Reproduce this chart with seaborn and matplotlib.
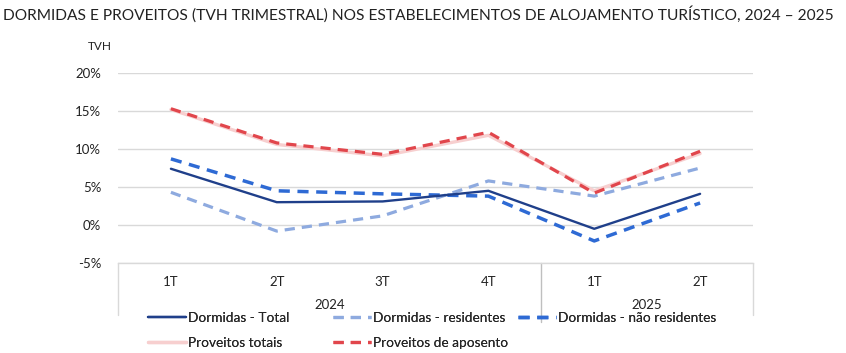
import matplotlib
matplotlib.use("Agg")
import matplotlib.pyplot as plt
import matplotlib.ticker as mticker
import pandas as pd
import seaborn as sns

quarters = ["1T", "2T", "3T", "4T", "1T", "2T"]
years = ["2024", "2025"]
year_spans = [(0, 4), (4, 6)]

dormidas_total = [7.4, 3.0, 3.1, 4.5, -0.5, 4.1]
dormidas_residentes = [4.3, -0.8, 1.2, 5.8, 3.8, 7.5]
dormidas_nao_residentes = [8.7, 4.5, 4.1, 3.8, -2.1, 2.9]
proveitos_totais = [15.2, 10.6, 9.1, 11.8, 4.5, 9.4]
proveitos_aposento = [15.3, 10.8, 9.3, 12.2, 4.2, 9.7]

series = {
    "Dormidas - Total": dormidas_total,
    "Dormidas - residentes": dormidas_residentes,
    "Dormidas - não residentes": dormidas_nao_residentes,
    "Proveitos totais": proveitos_totais,
    "Proveitos de aposento": proveitos_aposento,
}

styles = {
    "Dormidas - Total": dict(color="#1F3F8A", lw=1.7, ls="-", zorder=5),
    "Dormidas - residentes": dict(color="#8EAADF", lw=2.3, ls=(0, (3.2, 2.2)), zorder=3),
    "Dormidas - não residentes": dict(color="#2E6AD4", lw=2.5, ls=(0, (3.2, 2.2)), zorder=4),
    "Proveitos totais": dict(color="#F7CFCF", lw=2.4, ls="-", zorder=2),
    "Proveitos de aposento": dict(color="#E1464C", lw=2.3, ls=(0, (3.2, 2.2)), zorder=6),
}

rows = []
for name, values in series.items():
    for i, v in enumerate(values):
        rows.append({"pos": i, "value": v, "serie": name})
df = pd.DataFrame(rows)

sns.set_style("white")
plt.rcParams["font.family"] = ["Lato", "DejaVu Sans"]

fig = plt.figure(figsize=(8.46, 3.53), dpi=100)
ax = fig.add_axes([118 / 846, 1 - 263 / 353, (753 - 118) / 846, (263 - 73) / 353])

for name in series:
    st = styles[name]
    sub = df[df["serie"] == name]
    sns.lineplot(data=sub, x="pos", y="value", ax=ax, color=st["color"],
                 linewidth=st["lw"], linestyle=st["ls"], label=name,
                 zorder=st["zorder"], legend=False)

ax.set_xlim(-0.5, len(quarters) - 0.5)
ax.set_ylim(-5, 20)
ax.set_yticks([-5, 0, 5, 10, 15, 20])
ax.yaxis.set_major_formatter(mticker.FuncFormatter(lambda v, p: f"{v:.0f}%"))
ax.tick_params(axis="y", length=0, labelsize=9.5, pad=12, colors="#222222")
ax.set_xticks([])
ax.set_xlabel("")
ax.set_ylabel("")
ax.grid(axis="y", color="#D9D9D9", lw=1)
ax.set_axisbelow(True)
for s in ax.spines.values():
    s.set_visible(False)
ax.spines["bottom"].set_visible(True)
ax.spines["bottom"].set_color("#D9D9D9")
ax.spines["bottom"].set_linewidth(1)

# category box below the plot
tr = ax.get_xaxis_transform()
h = 263 - 73
box_bottom = -(315 - 263) / h
sep_bottom = -(322 - 263) / h
for i, q in enumerate(quarters):
    ax.text(i, -(282 - 263) / h, q, transform=tr, ha="center", va="center",
            fontsize=9.5, color="#222222")
for (a, b), yr in zip(year_spans, years):
    ax.text((a + b - 1) / 2, -(305 - 263) / h, yr, transform=tr, ha="center",
            va="center", fontsize=9.5, color="#222222")
ax.plot([-0.5, -0.5], [0, box_bottom], transform=tr, color="#D9D9D9", lw=1, clip_on=False)
ax.plot([5.5, 5.5], [0, box_bottom], transform=tr, color="#D9D9D9", lw=1, clip_on=False)
ax.plot([3.5, 3.5], [0, sep_bottom], transform=tr, color="#BFBFBF", lw=1, clip_on=False)

fig.text(3 / 846, 1 - 14 / 353, "DORMIDAS E PROVEITOS (TVH TRIMESTRAL) NOS ESTABELECIMENTOS DE ALOJAMENTO TURÍSTICO, 2024 – 2025",
         fontsize=11.2, va="center", ha="left", color="#222222")
fig.text(100 / 846, 1 - 47 / 353, "TVH", fontsize=8.5, va="center", ha="center", color="#222222")

handles, labels = ax.get_legend_handles_labels()
columns = [([0, 3], 148), ([1, 4], 333), ([2], 518)]
for idx, x0 in columns:
    leg = fig.legend([handles[i] for i in idx], [labels[i] for i in idx], ncol=1, frameon=False,
                     loc="upper left", bbox_to_anchor=(x0 / 846, 1 - 312 / 353), fontsize=9.8,
                     handlelength=2.8, handletextpad=0.15, labelspacing=0.95,
                     borderaxespad=0, borderpad=0)
    fig.add_artist(leg)

fig.savefig("out.png", dpi=100)
